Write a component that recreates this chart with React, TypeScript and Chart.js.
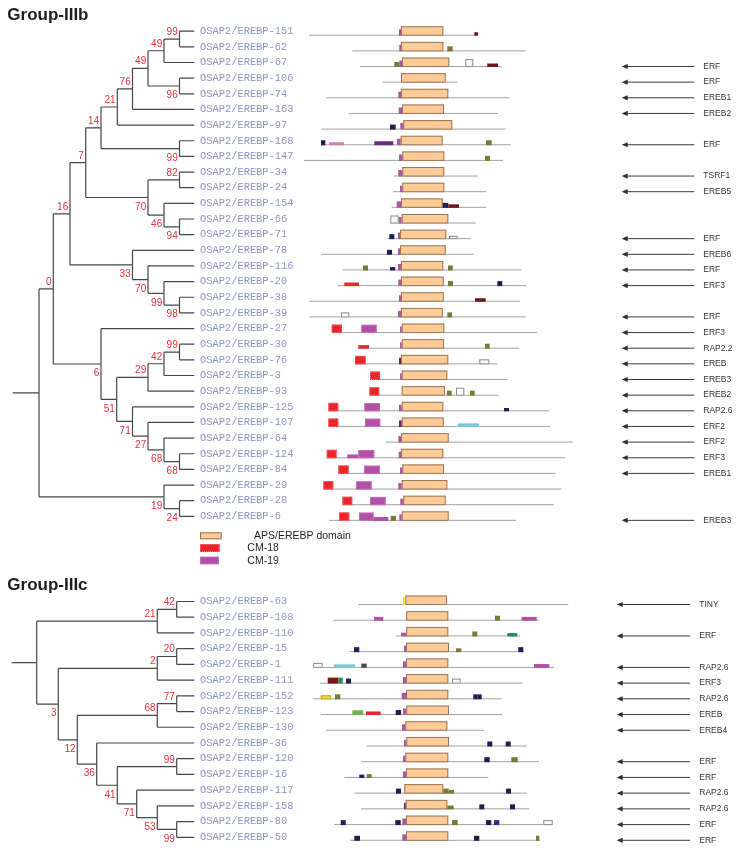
import { useEffect, useRef } from 'react';
import { Chart, registerables } from 'chart.js';
Chart.register(...registerables);

const W = 741;
const H = 853;

// ---------------- data ----------------
const panelTitles = ['Group-IIIb', 'Group-IIIc'];
const leafPrefix = 'OSAP2/EREBP-';
const leavesB = ['151', '62', '67', '106', '74', '163', '97', '168', '147', '34', '24', '154', '66', '71', '78', '116', '20', '38', '39', '27', '30', '76', '3', '93', '125', '107', '64', '124', '84', '29', '28', '6'];
const leavesC = ['63', '108', '110', '15', '1', '111', '152', '123', '130', '36', '120', '16', '117', '158', '80', '50'];

type TNode = { d: number; bs: string; side: string; kids: (TNode | number)[] };
const N = (d: number, bs: string, side: string, ...kids: (TNode | number)[]): TNode => ({ d, bs, side, kids });

// node depth, bootstrap value, label side (a = above, b = below), children (leaf index or node)
const treeB = N(39, '', '',
  N(53.3, '0', 'a',
    N(70, '16', 'a',
      N(85.7, '7', 'a',
        N(101, '14', 'a',
          N(117.3, '21', 'a',
            N(132.5, '76', 'a',
              N(148, '49', 'a', N(164, '49', 'a', N(179.5, '99', 'a', 0, 1), 2), N(179.5, '96', 'b', 3, 4)),
              5),
            6),
          N(179.5, '99', 'b', 7, 8)),
        N(148, '70', 'b', N(179.5, '82', 'a', 9, 10), N(164, '46', 'b', 11, N(179.5, '94', 'b', 12, 13)))),
      N(132.5, '33', 'b', 14, N(148, '70', 'b', 15, N(164, '99', 'b', 16, N(179.5, '98', 'b', 17, 18))))),
    N(101, '6', 'b', 19,
      N(116.7, '51', 'b',
        N(148, '29', 'a', N(164, '42', 'a', N(179.5, '99', 'a', 20, 21), 22), 23),
        N(132.5, '71', 'b', 24, N(148, '27', 'b', 25, N(164, '68', 'b', 26, N(179.5, '68', 'b', 27, 28))))))),
  N(164, '19', 'b', 29, N(179.5, '24', 'b', 30, 31)));

const treeC = N(36.7, '', '',
  N(157.3, '21', 'a', N(176.7, '42', 'a', 0, 1), 2),
  N(58.3, '3', 'b',
    N(157.3, '2', 'a', N(176.7, '20', 'a', 3, 4), 5),
    N(77.3, '12', 'b',
      N(157.3, '68', 'a', N(176.7, '77', 'a', 6, 7), 8),
      N(96.7, '36', 'b', 9,
        N(117.3, '41', 'b',
          N(176.7, '99', 'a', 10, 11),
          N(136.7, '71', 'b', 12, N(157.3, '53', 'b', 13, N(176.7, '99', 'b', 14, 15))))))));

const tipDepth = 194.3;
const rootStart = [12.7, 11.7];

// sequence extents [start, end]
const seqB = [[309, 476], [352.3, 525.7], [360, 501.7], [382.3, 457.7], [326.3, 509.3], [348.7, 498], [321.3, 505.7], [321, 510.7], [304, 503], [394, 477.7], [393.3, 486.3], [391.7, 486], [390, 475.7], [387.3, 470.7], [321, 473.7], [342.7, 521.7], [338, 526.3], [309.3, 519.7], [309.3, 525.7], [331.7, 537.3], [358.3, 519.3], [355, 497.7], [370, 507.3], [370, 498.3], [328.3, 549.3], [328.3, 550], [385.7, 572.7], [326.7, 565], [338.3, 555.7], [323.3, 561.7], [342.3, 554], [329, 516]];
const seqC = [[358.3, 568.3], [333.3, 538.3], [396, 520], [349.3, 524], [313.3, 554], [320, 522.7], [312.7, 501.7], [321, 502.3], [326, 484], [366.7, 526.7], [361, 539], [344.3, 488.3], [354.3, 526.7], [361, 529.3], [334.3, 552.3], [350, 540]];

// AP2/EREBP domain [start, end]
const ap2B = [[401, 443.3], [401, 443.3], [402, 449.3], [401, 445.7], [401, 448.3], [402, 444], [403.3, 452.3], [400.7, 442.7], [402.3, 444.3], [402.3, 444.3], [402.3, 444.3], [401, 442.7], [401.7, 448.3], [400, 446.3], [400, 445.7], [401, 443.3], [401, 443.7], [401, 443.7], [401, 442.7], [401.7, 444.3], [401.7, 444], [401, 448.3], [401.7, 447.3], [401.7, 445], [401.7, 443.3], [401.7, 443.7], [401, 448.7], [401, 443.3], [402.3, 444], [401.7, 447.3], [403.3, 445.7], [401.7, 448.7]];
const ap2C = [[405.3, 447], [406.3, 448.3], [406.3, 448.3], [406, 449], [406, 448.3], [406, 448.3], [406, 448.3], [406.3, 449], [405.3, 447.3], [406.3, 449], [405.3, 448.3], [406, 448.3], [404.3, 443.3], [405.7, 447.3], [406, 448.3], [406, 448.3]];

// other motifs [row, type, start, end]
type M = [number, string, number, number];
const motifsB: M[] = [
  [0, 'p', 399, 401], [0, 'r', 474.3, 478],
  [1, 'p', 399.3, 401], [1, 'o', 447.3, 452.7],
  [2, 'p', 399.3, 402], [2, 'o', 394.3, 399.3], [2, 'w', 465.3, 473.3], [2, 'r', 487.3, 498],
  [4, 'p', 398.3, 401],
  [5, 'p', 398.7, 402],
  [6, 'p', 400.3, 403.3], [6, 'n', 390, 395.7],
  [7, 'p', 397, 400.7], [7, 'n', 321, 325.3], [7, 'pk', 329, 344], [7, 'dp', 374.3, 393.3], [7, 'o', 486, 491.7],
  [8, 'p', 399, 402.3], [8, 'o', 485, 490],
  [9, 'p', 398.3, 402.3],
  [10, 'p', 400, 402.3],
  [11, 'p', 396.7, 401], [11, 'n', 442.7, 448.3], [11, 'r', 448.3, 459],
  [12, 'p', 398.7, 401.7], [12, 'w', 390.3, 398.7],
  [13, 'p', 398, 400], [13, 'n', 389.3, 394.3], [13, 'ws', 449, 457.7],
  [14, 'p', 398, 400], [14, 'n', 387, 392],
  [15, 'p', 398, 401], [15, 'o', 363, 368], [15, 'ns', 390, 395.3], [15, 'o', 448, 452.7],
  [16, 'p', 398.3, 401], [16, 'c18s', 344.3, 359], [16, 'o', 448, 453], [16, 'n', 497.3, 502.3],
  [17, 'p', 399, 401], [17, 'r', 475, 485.7],
  [18, 'p', 398, 401], [18, 'wm', 341, 349.3], [18, 'o', 447.3, 452],
  [19, 'p', 400, 401.7], [19, 'c18', 331.7, 342], [19, 'c19', 361.3, 376.7],
  [20, 'p', 400, 401.7], [20, 'c18s', 358.3, 369], [20, 'o', 485, 489.7],
  [21, 'pd', 399, 401], [21, 'c18', 355, 365.7], [21, 'wm', 479.3, 489.3],
  [22, 'p', 400, 401.7], [22, 'c18', 370, 380],
  [23, 'c18', 369.3, 379.3], [23, 'o', 447, 451.7], [23, 'w', 456, 464.3], [23, 'o', 470, 474.7],
  [24, 'p', 399, 401.7], [24, 'c18', 328.3, 338.3], [24, 'c19', 364.3, 380], [24, 'ns', 504, 509],
  [25, 'pd', 399, 401.7], [25, 'c18', 328.3, 338.3], [25, 'c19', 365, 380.3], [25, 'cy', 458, 479],
  [26, 'p', 398.3, 401],
  [27, 'p', 398.7, 401], [27, 'c18', 326.7, 336.7], [27, 'c19s', 347.3, 358.3], [27, 'c19', 358.3, 374.3],
  [28, 'p', 400, 402.3], [28, 'c18', 338.3, 348.7], [28, 'c19', 364, 380],
  [29, 'p', 398.3, 401.7], [29, 'c18', 323.3, 333.3], [29, 'c19', 356, 371.7],
  [30, 'p', 400.3, 403.3], [30, 'c18', 342.3, 352.3], [30, 'c19', 370, 385.7],
  [31, 'p', 399.3, 401.7], [31, 'c18', 339, 349.3], [31, 'c19', 359, 373.7], [31, 'c19s', 373.7, 388.3], [31, 'o', 390.7, 396],
];
const motifsC: M[] = [
  [0, 'yt', 403, 405.3],
  [1, 'c19s', 374, 383.3], [1, 'o', 495, 500], [1, 'c19s', 521.7, 536.7],
  [2, 'ps', 401, 406.3], [2, 'o', 472.3, 477.3], [2, 'g', 507.3, 517.3],
  [3, 'p', 404, 406], [3, 'n', 354, 359.3], [3, 'os', 456, 461.3], [3, 'n', 518.3, 523.3],
  [4, 'p', 403, 406], [4, 'wm', 313.3, 322.7], [4, 'cy', 334, 355], [4, 'dg', 361.3, 366.7], [4, 'c19s', 534, 549.3],
  [5, 'p', 403, 406], [5, 'dr', 327.7, 338.3], [5, 'gm', 338.3, 342.7], [5, 'n', 346, 351], [5, 'wm', 452, 460.7],
  [6, 'p', 401.7, 406], [6, 'y', 320.7, 331.3], [6, 'o', 335, 340.3], [6, 'n', 473.3, 477.5], [6, 'n', 477.5, 481.7],
  [7, 'p', 403, 406.3], [7, 'lg', 352.3, 363.3], [7, 'c18s', 366, 380.7], [7, 'n', 395.7, 401],
  [8, 'p', 402, 405.3],
  [9, 'p', 404, 406.3], [9, 'n', 487.3, 492.3], [9, 'n', 505.7, 510.7],
  [10, 'p', 403, 405.3], [10, 'n', 484.3, 489.7], [10, 'o', 511.3, 517.7],
  [11, 'p', 403, 406], [11, 'ns', 359.3, 364.3], [11, 'os', 366.7, 371.7],
  [12, 'n', 396, 401], [12, 'o', 443.3, 448.7], [12, 'os', 448.7, 454], [12, 'n', 506, 511],
  [13, 'pd', 404, 405.7], [13, 'os', 447.3, 453.7], [13, 'n', 479.3, 484.3], [13, 'n', 510, 515],
  [14, 'p', 402.3, 406], [14, 'n', 340.7, 345.7], [14, 'n', 395.3, 400.7], [14, 'o', 452, 457.7], [14, 'n', 486, 491.3], [14, 'nb', 494, 499.3], [14, 'wm', 543.3, 552.7],
  [15, 'p', 402.3, 406], [15, 'n', 354.3, 360], [15, 'n', 474, 479.3], [15, 'o', 536, 539.3],
];

// right-hand homologue annotations [row, name]
const homologB: [number, string][] = [[2, 'ERF'], [3, 'ERF'], [4, 'EREB1'], [5, 'EREB2'], [7, 'ERF'], [9, 'TSRF1'], [10, 'EREB5'], [13, 'ERF'], [14, 'EREB6'], [15, 'ERF'], [16, 'ERF3'], [18, 'ERF'], [19, 'ERF3'], [20, 'RAP2.2'], [21, 'EREB'], [22, 'EREB3'], [23, 'EREB2'], [24, 'RAP2.6'], [25, 'ERF2'], [26, 'ERF2'], [27, 'ERF3'], [28, 'EREB1'], [31, 'EREB3']];
const homologC: [number, string][] = [[0, 'TINY'], [2, 'ERF'], [4, 'RAP2.6'], [5, 'ERF3'], [6, 'RAP2.6'], [7, 'EREB'], [8, 'EREB4'], [10, 'ERF'], [11, 'ERF'], [12, 'RAP2.6'], [13, 'RAP2.6'], [14, 'ERF'], [15, 'ERF']];

const legendLabels = ['APS/EREBP domain', 'CM-18', 'CM-19'];

// ---------------- styles / layout ----------------
const motifStyle: Record<string, { fill: string; stroke?: string; h: number; dash?: boolean }> = {
  p: { fill: '#a8589f', h: 6.5 },
  pd: { fill: '#5e2a5e', h: 6.5 },
  ps: { fill: '#a8589f', h: 3.8 },
  o: { fill: '#7a7a36', h: 5 },
  os: { fill: '#7a7a36', h: 3.8 },
  n: { fill: '#1e1e52', h: 5 },
  ns: { fill: '#1e1e52', h: 3.3 },
  nb: { fill: '#30307e', h: 5 },
  r: { fill: '#6c1421', h: 3.5 },
  w: { fill: '#ffffff', stroke: '#8a8a8a', h: 8 },
  wm: { fill: '#ffffff', stroke: '#8a8a8a', h: 5 },
  ws: { fill: '#ffffff', stroke: '#8a8a8a', h: 3.3 },
  c18: { fill: '#e8252b', stroke: '#f48080', h: 8.5, dash: true },
  c18s: { fill: '#e02a2e', h: 3.6 },
  c19: { fill: '#b24fa6', stroke: '#d88ad0', h: 8.3, dash: true },
  c19s: { fill: '#b24fa6', h: 3.8 },
  pk: { fill: '#d57bb8', h: 3 },
  dp: { fill: '#6b2a7d', h: 4 },
  cy: { fill: '#7ccad8', h: 3.6 },
  g: { fill: '#2b8a5c', h: 3.4 },
  gm: { fill: '#2b8a4c', h: 6 },
  lg: { fill: '#6fb04f', h: 4.7 },
  y: { fill: '#f2e232', stroke: '#b8a828', h: 4 },
  yt: { fill: '#f2e232', h: 8 },
  dg: { fill: '#4b4b4b', h: 4.3 },
  dr: { fill: '#7a1719', h: 6 },
};

const panels = [
  { title: panelTitles[0], titleY: 20.2, leaves: leavesB, tree: treeB, stub: rootStart[0], seq: seqB, ap2: ap2B, motifs: motifsB, homolog: homologB, y0: 30.7, step: 15.65, lineOff: 4.5, ax0: 621.7, ax1: 694.3, tx: 703.3 },
  { title: panelTitles[1], titleY: 590.2, leaves: leavesC, tree: treeC, stub: rootStart[1], seq: seqC, ap2: ap2C, motifs: motifsC, homolog: homologC, y0: 601, step: 15.72, lineOff: 3.5, ax0: 616.7, ax1: 690, tx: 699.3 },
];

type Seg = [number, number, number, number];
type Lab = { x: number; y: number; text: string; side: string };

function rowY(p: any, i: number) { return p.y0 + i * p.step; }

function walk(n: TNode | number, p: any, segs: Seg[], labs: Lab[]): number {
  if (typeof n === 'number') return rowY(p, n) + 0.5;
  const ys = n.kids.map((k) => walk(k, p, segs, labs));
  const top = Math.min(...ys);
  const bot = Math.max(...ys);
  segs.push([n.d, top, n.d, bot]);
  n.kids.forEach((k, i) => {
    const kd = typeof k === 'number' ? tipDepth : k.d;
    segs.push([n.d, ys[i], kd, ys[i]]);
  });
  const y = (top + bot) / 2;
  if (n.bs) labs.push({ x: n.d, y, text: n.bs, side: n.side });
  return y;
}

const ptsOf = (segs: Seg[]) => segs.flatMap(([x1, y1, x2, y2]) => [{ x: x1, y: y1 }, { x: x2, y: y2 }, { x: x2, y: null as any }]);

export default function App() {
  const ref = useRef<HTMLCanvasElement | null>(null);
  useEffect(() => {
    if (!ref.current) return;
    const treeSegs: Seg[] = [];
    const seqSegs: Seg[] = [];
    const arrowSegs: Seg[] = [];
    const bsLabels: Lab[] = [];
    panels.forEach((p) => {
      const ry = walk(p.tree, p, treeSegs, bsLabels);
      treeSegs.push([p.stub, ry, p.tree.d, ry]);
      p.seq.forEach((s, i) => {
        const ly = rowY(p, i) + p.lineOff;
        seqSegs.push([s[0], ly, s[1], ly]);
      });
      p.homolog.forEach(([r]) => {
        const ly = rowY(p, r) + p.lineOff;
        arrowSegs.push([p.ax0 + 4, ly, p.ax1, ly]);
      });
    });

    const figurePlugin = {
      id: 'figure',
      afterDatasetsDraw(chart: any) {
        const ctx: CanvasRenderingContext2D = chart.ctx;
        const X = (v: number) => chart.scales.x.getPixelForValue(v);
        const Y = (v: number) => chart.scales.y.getPixelForValue(v);
        ctx.save();
        const box = (x1: number, x2: number, yb: number, h: number, fill: string, stroke?: string, dash?: boolean) => {
          const l = X(x1), r = X(x2), b = Y(yb);
          ctx.fillStyle = fill;
          ctx.fillRect(l, b - h, r - l, h);
          if (stroke) {
            ctx.strokeStyle = stroke;
            ctx.lineWidth = 1;
            ctx.setLineDash(dash ? [1, 1] : []);
            ctx.strokeRect(l + 0.5, b - h + 0.5, r - l - 1, h - 1);
            ctx.setLineDash([]);
          }
        };
        panels.forEach((p) => {
          // title
          ctx.fillStyle = '#1e1e1e';
          ctx.font = 'bold 17px "Liberation Sans", Arial, sans-serif';
          ctx.textAlign = 'left';
          ctx.textBaseline = 'alphabetic';
          ctx.fillText(p.title, X(7.3), Y(p.titleY));
          // leaf labels
          ctx.font = '10.4px "Liberation Mono", monospace';
          ctx.fillStyle = '#8d95c6';
          ctx.textBaseline = 'middle';
          p.leaves.forEach((id, i) => ctx.fillText(leafPrefix + id, X(200), Y(rowY(p, i) + 0.5)));
          // domains
          p.ap2.forEach((a, i) => {
            const ly = rowY(p, i) + p.lineOff;
            box(a[0], a[1], ly + 0.5, 9.5, '#fdcb98', '#9a7656');
          });
          p.motifs.forEach(([r, t, s, e]) => {
            const st = motifStyle[t];
            const ly = rowY(p, r) + p.lineOff;
            box(s, e, ly + 0.5, st.h, st.fill, st.stroke, st.dash);
          });
          // homolog arrows
          ctx.fillStyle = '#2e2e2e';
          p.homolog.forEach(([r, name]) => {
            const ly = Y(rowY(p, r) + p.lineOff);
            const x0 = X(p.ax0);
            ctx.beginPath();
            ctx.moveTo(x0, ly);
            ctx.lineTo(x0 + 6, ly - 2.6);
            ctx.lineTo(x0 + 6, ly + 2.6);
            ctx.closePath();
            ctx.fill();
          });
          ctx.font = '8.5px "Liberation Sans", Arial, sans-serif';
          ctx.fillStyle = '#333333';
          ctx.textAlign = 'left';
          p.homolog.forEach(([r, name]) => {
            ctx.fillText(name, X(p.tx), Y(rowY(p, r) + p.lineOff));
          });
        });
        // bootstrap values
        ctx.font = '10px "Liberation Sans", Arial, sans-serif';
        ctx.fillStyle = '#e2323a';
        ctx.textAlign = 'right';
        ctx.textBaseline = 'middle';
        bsLabels.forEach((l) => {
          ctx.fillText(l.text, X(l.x) - 1.8, Y(l.y) + (l.side === 'a' ? -6.8 : 9.6));
        });
        // legend
        const legendRows = [
          { y: 539.3, h: 7, w: 21.7, fill: '#fdcb98', stroke: '#9a7656', dash: false, tx: 254 },
          { y: 552, h: 8, w: 19.7, fill: '#e8252b', stroke: '#f48080', dash: true, tx: 247.3 },
          { y: 564.3, h: 7.6, w: 19, fill: '#b24fa6', stroke: '#d88ad0', dash: true, tx: 247.3 },
        ];
        ctx.font = '10.5px "Liberation Sans", Arial, sans-serif';
        legendRows.forEach((lr, i) => {
          box(200, 200 + lr.w, lr.y, lr.h, lr.fill, lr.stroke, lr.dash);
          ctx.fillStyle = '#1e1e1e';
          ctx.textAlign = 'left';
          ctx.textBaseline = 'middle';
          ctx.fillText(legendLabels[i], X(lr.tx), Y(lr.y - lr.h / 2 + 0.5));
        });
        ctx.restore();
      },
    };

    const lineDs = (data: any[], color: string, width: number) => ({
      data, borderColor: color, borderWidth: width, pointRadius: 0, pointHoverRadius: 0,
      spanGaps: false, tension: 0, fill: false,
    });

    const chart = new Chart(ref.current, {
      type: 'line',
      data: {
        datasets: [
          lineDs(ptsOf(treeSegs), '#474747', 1.2),
          lineDs(ptsOf(seqSegs), '#a2a2a2', 1),
          lineDs(ptsOf(arrowSegs), '#3a3a3a', 1),
        ] as any,
      },
      options: {
        animation: false,
        responsive: false,
        devicePixelRatio: 1,
        events: [],
        layout: { padding: 0 },
        plugins: { legend: { display: false }, tooltip: { enabled: false } },
        scales: {
          x: { type: 'linear', min: 0, max: W, display: false },
          y: { type: 'linear', min: 0, max: H, reverse: true, display: false },
        },
      } as any,
      plugins: [figurePlugin],
    });
    return () => chart.destroy();
  }, []);

  return (
    <div style={{ position: 'fixed', left: 0, top: 0, width: W, height: H, background: '#fff' }}>
      <canvas ref={ref} width={W} height={H} style={{ display: 'block', width: W, height: H }} />
    </div>
  );
}
